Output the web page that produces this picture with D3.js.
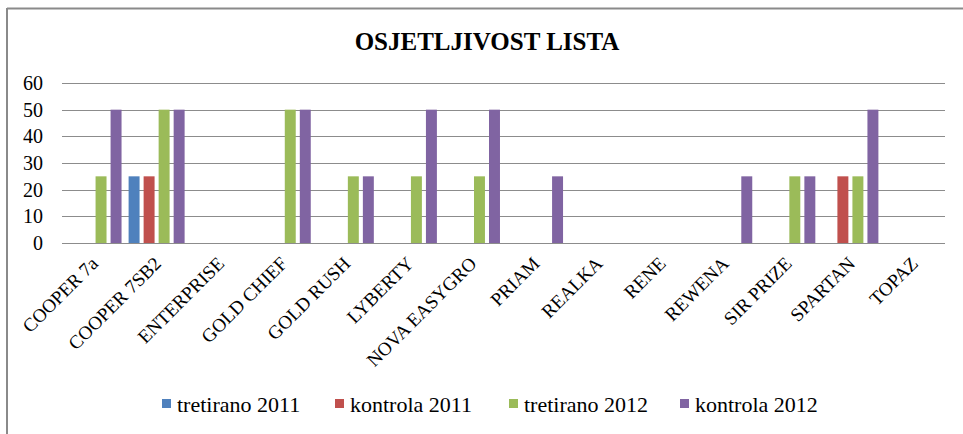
<!DOCTYPE html>
<html>
<head>
<meta charset="utf-8">
<script src="https://cdn.jsdelivr.net/npm/d3@7"></script>
<style>
  body { margin: 0; background: #fff; }
  text { font-family: "Liberation Serif", "Times New Roman", serif; fill: #000; }
</style>
</head>
<body>
<div id="chart"></div>
<script>
  var categories = ["COOPER 7a", "COOPER 7SB2", "ENTERPRISE", "GOLD CHIEF", "GOLD RUSH", "LYBERTY",
    "NOVA EASYGRO", "PRIAM", "REALKA", "RENE", "REWENA", "SIR PRIZE", "SPARTAN", "TOPAZ"];
  var seriesNames = ["tretirano 2011", "kontrola 2011", "tretirano 2012", "kontrola 2012"];
  var tretirano2011 = [0, 25, 0, 0, 0, 0, 0, 0, 0, 0, 0, 0, 0, 0];
  var kontrola2011  = [0, 25, 0, 0, 0, 0, 0, 0, 0, 0, 0, 0, 25, 0];
  var tretirano2012 = [25, 50, 0, 50, 25, 25, 25, 0, 0, 0, 0, 25, 25, 0];
  var kontrola2012  = [50, 50, 0, 50, 25, 50, 50, 25, 0, 0, 25, 25, 50, 0];
  var yTicks = [0, 10, 20, 30, 40, 50, 60];
  var colors = ["#4f81bd", "#c0504d", "#9bbb59", "#8064a2"];

  var allSeries = [tretirano2011, kontrola2011, tretirano2012, kontrola2012];

  var W = 963, H = 434;
  var margin = {top: 83, right: 18, bottom: 191, left: 62},
      width = W - margin.left - margin.right,
      height = H - margin.top - margin.bottom;

  var svg = d3.select("#chart")
    .append("svg")
      .attr("width", W)
      .attr("height", H);

  // frame (only top and left edges visible)
  svg.append("line").attr("x1", 7).attr("x2", W).attr("y1", 8.5).attr("y2", 8.5)
    .attr("stroke", "#8a8a8a").attr("stroke-width", 2);
  svg.append("line").attr("x1", 7).attr("x2", 7).attr("y1", 8).attr("y2", H)
    .attr("stroke", "#8a8a8a").attr("stroke-width", 2);

  svg.append("text")
    .attr("x", 487).attr("y", 50)
    .attr("text-anchor", "middle")
    .style("font-size", "25px")
    .style("font-weight", "bold")
    .text("OSJETLJIVOST LISTA");

  var g = svg.append("g")
    .attr("transform", "translate(" + margin.left + "," + margin.top + ")");

  var x0 = d3.scaleBand().domain(categories).range([0, width]).paddingInner(0).paddingOuter(0);
  var x1 = d3.scaleBand().domain(seriesNames).range([0, x0.bandwidth()]).paddingInner(0.27).paddingOuter(0.235);
  var y = d3.scaleLinear().domain([0, 60]).range([height, 0]);

  // gridlines
  g.append("g")
    .selectAll("line")
    .data(yTicks)
    .enter()
    .append("line")
      .attr("x1", 0).attr("x2", width)
      .attr("y1", function (d) { return Math.round(y(d)) + 0.5; })
      .attr("y2", function (d) { return Math.round(y(d)) + 0.5; })
      .attr("stroke", "#8c8c8c")
      .attr("stroke-width", 1.2);

  // y labels
  var yAxis = g.append("g").call(d3.axisLeft(y).tickValues(yTicks).tickSize(0).tickPadding(19));
  yAxis.select(".domain").remove();
  yAxis.selectAll("text")
    .style("font-size", "20px")
    .style("font-family", "Liberation Serif, serif");

  // bars
  var groups = g.append("g")
    .selectAll("g")
    .data(categories)
    .enter()
    .append("g")
      .attr("transform", function (d) { return "translate(" + x0(d) + ",0)"; });

  groups.selectAll("rect")
    .data(function (d, i) {
      return seriesNames.map(function (s, k) { return {s: s, k: k, v: allSeries[k][i]}; });
    })
    .enter()
    .append("rect")
      .attr("x", function (d) { return x1(d.s); })
      .attr("width", x1.bandwidth())
      .attr("y", function (d) { return y(d.v); })
      .attr("height", function (d) { return height - y(d.v); })
      .attr("fill", function (d) { return colors[d.k]; });

  // x labels
  g.append("g")
    .selectAll("text")
    .data(categories)
    .enter()
    .append("text")
      .attr("transform", function (d) {
        return "translate(" + (x0(d) + x0.bandwidth() / 2 + 1) + "," + (height + 17) + ") rotate(-45)";
      })
      .attr("text-anchor", "end")
      .attr("dy", "0.35em")
      .style("font-size", "19px")
      .text(function (d) { return d; });

  // legend
  var legendX = [162, 335, 509, 680];
  var legend = svg.append("g")
    .selectAll("g")
    .data(seriesNames)
    .enter()
    .append("g")
      .attr("transform", function (d, i) { return "translate(" + legendX[i] + ",399)"; });
  legend.append("rect")
    .attr("width", 9).attr("height", 9)
    .attr("fill", function (d, i) { return colors[i]; });
  legend.append("text")
    .attr("x", 15).attr("y", 5)
    .attr("dy", "0.35em")
    .style("font-size", "22px")
    .text(function (d) { return d; });
</script>
</body>
</html>
